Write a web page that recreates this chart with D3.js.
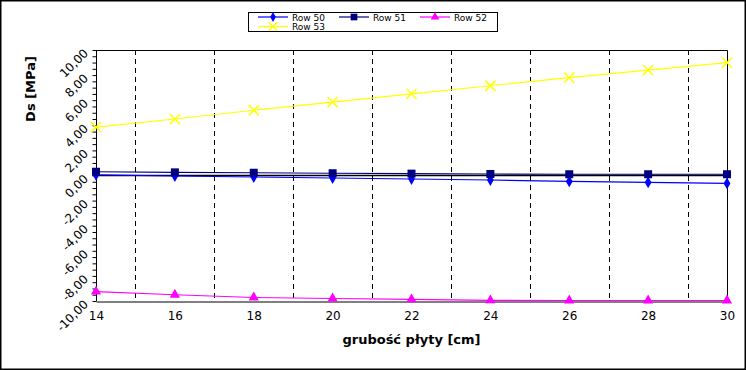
<!DOCTYPE html>
<html>
<head>
<meta charset="utf-8">
<title>Ds</title>
<script src="https://d3js.org/d3.v7.min.js"></script>
<style>
    html, body { margin: 0; padding: 0; background: white; }
    svg { display: block; font-family: "DejaVu Sans", sans-serif; }
</style>
</head>
<body>
<div id="graph"></div>
<script>
    // data
    var thickness = [14, 16, 18, 20, 22, 24, 26, 28, 30];
    var row50 = [0.05, -0.04, -0.12, -0.2, -0.28, -0.36, -0.47, -0.55, -0.63];
    var row51 = [0.3, 0.25, 0.22, 0.18, 0.15, 0.12, 0.1, 0.1, 0.1];
    var row52 = [-9.25, -9.5, -9.72, -9.8, -9.87, -9.95, -9.96, -9.96, -9.96];
    var row53 = [3.86, 4.5, 5.2, 5.85, 6.5, 7.15, 7.8, 8.4, 9.0];
    var seriesNames = ["Row 50", "Row 51", "Row 52", "Row 53"];
    var yTicks = [-10, -8, -6, -4, -2, 0, 2, 4, 6, 8, 10];
    var gridX = [15, 17, 19, 21, 23, 25, 27, 29];

    var series = [
        {name: seriesNames[0], values: row50, color: "#0000ff", symbol: d3.symbolDiamond, size: 40},
        {name: seriesNames[1], values: row51, color: "#000080", symbol: d3.symbolSquare, size: 64},
        {name: seriesNames[2], values: row52, color: "#ff00ff", symbol: d3.symbolTriangle, size: 45},
        {name: seriesNames[3], values: row53, color: "#ffff00", symbol: d3.symbolX, size: 70}
    ];

    var W = 746, H = 370;
    var margin = {top: 50, right: 19, bottom: 69, left: 96};
    var width = W - margin.left - margin.right,
        height = H - margin.top - margin.bottom;

    var root = d3.select("#graph").append("svg")
        .attr("width", W)
        .attr("height", H);

    // outer frame
    root.append("rect")
        .attr("x", 0.5).attr("y", 0.5)
        .attr("width", W - 1).attr("height", H - 1)
        .attr("fill", "white").attr("stroke", "black").attr("stroke-width", 2);

    var svg = root.append("g")
        .attr("transform", "translate(" + margin.left + "," + margin.top + ")");

    var x = d3.scaleLinear().domain([14, 30]).range([0, width]);
    var y = d3.scaleLinear().domain([-10, 10]).range([height, 0]);

    //dashed vertical grid at odd values
    svg.selectAll(".grid")
        .data(gridX)
        .enter()
        .append("line")
            .attr("x1", function(d) { return Math.round(x(d)) + 0.5; })
            .attr("x2", function(d) { return Math.round(x(d)) + 0.5; })
            .attr("y1", 0)
            .attr("y2", height)
            .attr("stroke", "black")
            .attr("stroke-dasharray", "5,4");

    // plot border (top + right)
    svg.append("path")
        .attr("d", "M0,0.5H" + (width + 0.5) + "V" + height)
        .attr("fill", "none").attr("stroke", "black");

    // zero line
    svg.append("line")
        .attr("x1", 0).attr("x2", width)
        .attr("y1", y(0)).attr("y2", y(0))
        .attr("stroke", "black").attr("stroke-width", 1.5);

    // y axis with minor ticks
    var yMinor = d3.range(-10, 10.01, 0.5);
    svg.append("g")
        .attr("transform", "translate(0.5,0)")
        .call(d3.axisLeft(y).tickValues(yMinor).tickSize(4).tickFormat(""))
        .call(function(g) { g.selectAll("line,path").attr("stroke", "black"); g.select(".domain").attr("d", "M0,0V" + height); });

    svg.append("g").selectAll("text")
        .data(yTicks)
        .enter()
        .append("text")
            .attr("transform", function(d) { return "translate(-7," + (y(d) + 4) + ") rotate(-45)"; })
            .attr("text-anchor", "end")
            .attr("font-size", 12)
            .text(function(d) { return d3.format(".2f")(d).replace(".", ",").replace("−", "-"); });

    // x axis
    svg.append("g")
        .attr("transform", "translate(0," + (height + 0.5) + ")")
        .call(d3.axisBottom(x).tickValues(thickness).tickSize(0).tickPadding(10))
        .call(function(g) {
            g.select(".domain").attr("stroke", "black");
            g.selectAll("text").attr("font-size", 12).attr("font-family", "DejaVu Sans").attr("fill", "black");
        });

    // axis titles
    svg.append("text")
        .attr("x", width / 2)
        .attr("y", height + 43)
        .attr("text-anchor", "middle")
        .attr("font-size", 13)
        .attr("font-weight", "bold")
        .text("grubość płyty [cm]");

    root.append("text")
        .attr("transform", "translate(35,89) rotate(-90)")
        .attr("text-anchor", "middle")
        .attr("font-size", 13)
        .attr("font-weight", "bold")
        .text("Ds [MPa]");

    // lines and markers
    var line = d3.line()
        .x(function(d, i) { return x(thickness[i]); })
        .y(function(d) { return y(d); });

    series.forEach(function(s) {
        svg.append("path")
            .datum(s.values)
            .attr("d", line)
            .attr("fill", "none")
            .attr("stroke", s.color)
            .attr("stroke-width", 1.2);

        svg.selectAll(".m" + s.name.replace(" ", ""))
            .data(s.values)
            .enter()
            .append("path")
                .attr("transform", function(d, i) { return "translate(" + x(thickness[i]) + "," + y(d) + ")"; })
                .attr("d", d3.symbol().type(s.symbol).size(s.size))
                .attr("fill", s.color)
                .attr("stroke", s.color)
                .attr("stroke-width", s.symbol === d3.symbolX ? 1.5 : 0);
    });

    // legend
    var legend = root.append("g").attr("transform", "translate(248,12)");
    legend.append("rect")
        .attr("x", 0.5).attr("y", 0.5)
        .attr("width", 249).attr("height", 19)
        .attr("fill", "white").attr("stroke", "black");

    var legendPos = [[10, 5], [91, 5], [172, 5], [10, 14.5]];
    series.forEach(function(s, i) {
        var g = legend.append("g").attr("transform", "translate(" + legendPos[i][0] + "," + legendPos[i][1] + ")");
        g.append("line").attr("x1", 0).attr("x2", 30).attr("stroke", s.color).attr("stroke-width", 1.2);
        g.append("path")
            .attr("transform", "translate(15,0)")
            .attr("d", d3.symbol().type(s.symbol).size(s.size * 0.7))
            .attr("fill", s.color)
            .attr("stroke", s.color)
            .attr("stroke-width", s.symbol === d3.symbolX ? 1.5 : 0);
        g.append("text")
            .attr("x", 34).attr("y", 3.5)
            .attr("font-size", 9)
            .text(s.name);
    });
</script>
</body>
</html>
